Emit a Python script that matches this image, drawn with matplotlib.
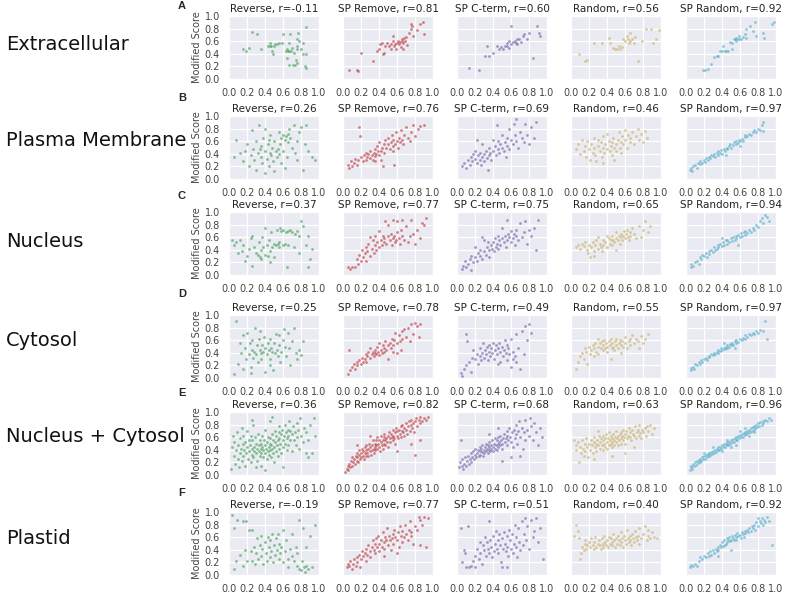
import numpy as np
import matplotlib.pyplot as plt
import seaborn as sns

sns.set_style('darkgrid')
plt.rcParams['font.family'] = ['DejaVu Sans']

methods = ['Reverse', 'SP Remove', 'SP C-term', 'Random', 'SP Random']
colors = ['#55A868', '#C44E52', '#8172B2', '#CCB974', '#64B5CD']
locations = ['Extracellular', 'Plasma Membrane', 'Nucleus', 'Cytosol',
             'Nucleus + Cytosol', 'Plastid']
letters = ['A', 'B', 'C', 'D', 'E', 'F']
r_values = [
    ['-0.11', '0.81', '0.60', '0.56', '0.92'],
    ['0.26', '0.76', '0.69', '0.46', '0.97'],
    ['0.37', '0.77', '0.75', '0.65', '0.94'],
    ['0.25', '0.78', '0.49', '0.55', '0.97'],
    ['0.36', '0.82', '0.68', '0.63', '0.96'],
    ['-0.19', '0.77', '0.51', '0.40', '0.92'],
]

# (original score, modified score) pairs, in hundredths
ext_rev = [(15,47),(19,44),(22,50),(25,74),(31,71),(36,47),(43,53),(45,57),(46,52),(47,53),
           (48,44),(49,39),(50,52),(51,55),(53,56),(56,57),(59,57),(60,72),(63,44),(64,48),
           (64,33),(65,45),(67,44),(67,57),(68,71),(69,44),(70,49),(71,22),(73,22),(74,30),
           (75,63),(75,47),(75,26),(76,52),(77,73),(78,60),(80,47),(82,57),(82,39),(84,20),
           (85,83),(85,40),(86,17),(72,41),(67,22)]
ext_rem = [(7,14),(16,14),(17,13),(20,41),(33,29),(38,45),(40,48),(41,55),(43,57),(44,39),
           (45,41),(47,53),(49,57),(51,52),(53,48),(53,56),(55,61),(56,69),(57,52),(58,56),
           (59,47),(60,57),(61,61),(62,55),(63,58),(64,51),(65,60),(66,64),(67,57),(68,65),
           (69,60),(70,67),(71,54),(73,73),(75,80),(76,88),(77,84),(78,68),(82,78),(85,87),
           (89,90),(90,71),(67,47)]
ext_cterm = [(13,17),(24,14),(33,52),(35,36),(31,36),(40,41),(44,52),(49,51),(51,47),(53,52),
             (56,57),(58,49),(60,84),(60,55),(62,58),(64,60),(65,57),(67,63),(67,55),(69,64),
             (71,58),(73,68),(74,71),(78,63),(80,73),(84,33),(89,84),(91,73),(92,68),(47,47),
             (55,53),(58,60)]
ext_rand = [(9,40),(15,29),(18,30),(25,57),(34,57),(42,65),(43,57),(47,49),(49,47),(51,48),
            (53,52),(54,47),(57,51),(58,63),(60,60),(62,68),(63,63),(64,57),(65,73),(66,60),
            (68,63),(70,57),(71,67),(74,28),(79,60),(83,80),(89,80),(91,57),(94,64),(98,78)]
ext_sprand = [(19,14),(21,14),(24,16),(28,24),(31,35),(34,37),(36,36),(38,45),(40,44),(43,45),
              (44,44),(41,52),(49,58),(51,57),(53,64),(54,63),(56,65),(56,61),(57,64),(59,63),
              (59,68),(61,64),(63,67),(65,71),(67,65),(67,80),(71,84),(74,76),(77,90),(78,68),
              (85,73),(87,65),(96,87),(98,91),(47,44),(51,47)]

pm_rev = [(5,35),(8,62),(12,42),(15,28),(18,45),(20,55),(22,20),(24,38),(25,78),(27,48),
          (28,30),(30,60),(30,15),(32,42),(33,85),(35,35),(35,52),(37,25),(38,65),(40,45),
          (40,80),(42,32),(43,55),(44,20),(45,42),(46,70),(47,38),(48,50),(49,28),(50,60),
          (50,12),(52,45),(53,35),(54,48),(55,75),(56,40),(57,55),(58,25),(58,65),(60,70),
          (60,45),(62,62),(63,68),(64,35),(65,72),(66,58),(67,80),(68,65),(70,50),(72,85),
          (73,42),(75,60),(76,30),(78,75),(80,82),(82,15),(84,55),(85,85),(88,45),(92,35),
          (95,30),(40,10),(34,48),(44,62),(62,18)]
pm_rem = [(5,22),(7,18),(9,28),(10,20),(12,25),(13,32),(15,22),(17,30),(18,82),(19,68),
          (20,35),(22,28),(23,38),(25,30),(26,42),(27,35),(28,40),(30,33),(30,45),(32,38),
          (33,30),(34,42),(35,48),(36,36),(37,40),(38,52),(39,44),(40,38),(40,58),(42,45),
          (43,50),(44,20),(45,55),(46,42),(47,62),(48,50),(50,55),(50,65),(52,48),(53,58),
          (54,70),(55,52),(56,62),(57,22),(58,55),(59,75),(60,60),(61,50),(62,65),(63,58),
          (64,78),(65,62),(67,55),(68,70),(70,82),(72,65),(74,60),(76,75),(78,85),(80,68),
          (83,80),(86,84),(90,86),(42,30),(36,28),(55,45)]
pm_cterm = [(5,20),(8,25),(10,18),(12,30),(14,22),(15,35),(17,28),(18,40),(20,32),(22,25),
            (23,38),(25,30),(26,42),(27,22),(28,35),(30,40),(30,28),(32,45),(33,33),(34,15),
            (35,38),(36,50),(37,42),(38,30),(40,45),(40,62),(42,52),(43,38),(44,85),(45,48),
            (46,60),(47,42),(48,55),(50,50),(50,70),(52,45),(53,58),(54,35),(55,65),(56,52),
            (58,48),(58,80),(60,62),(62,55),(63,88),(64,70),(65,95),(66,60),(68,50),(70,75),
            (72,65),(74,58),(75,88),(78,70),(80,55),(82,82),(85,65),(88,90),(28,55),(20,45),
            (22,62)]
pm_rand = [(5,48),(8,55),(10,40),(12,62),(14,45),(15,52),(17,35),(18,60),(20,48),(21,30),
           (22,55),(24,42),(25,65),(26,50),(27,38),(28,28),(30,52),(30,62),(32,45),(33,58),
           (34,35),(35,50),(36,68),(37,42),(38,55),(40,48),(40,72),(42,60),(43,45),(44,52),
           (45,38),(46,58),(47,65),(48,50),(50,55),(50,45),(52,62),(53,75),(54,50),(55,58),
           (56,42),(57,68),(58,55),(60,62),(60,78),(62,50),(63,70),(65,58),(66,65),(68,75),
           (70,55),(72,68),(74,80),(76,62),(78,72),(80,58),(82,76),(84,65),(35,25),(48,30)]
pm_sprand = [(4,14),(5,18),(7,12),(8,20),(10,22),(12,18),(13,25),(15,24),(16,28),(18,26),
             (20,30),(21,27),(22,33),(24,30),(25,35),(27,33),(28,38),(30,36),(31,40),(32,35),
             (34,42),(35,38),(36,44),(38,42),(39,46),(40,40),(42,48),(43,45),(45,50),(46,47),
             (48,52),(49,55),(50,50),(52,54),(53,58),(55,56),(56,60),(58,57),(59,62),(60,60),
             (62,64),(63,61),(65,66),(66,70),(68,68),(70,72),(72,70),(74,75),(76,78),(78,74),
             (80,80),(82,78),(84,86),(85,90),(85,76),(60,52),(44,38)]

nuc_rev = [(3,55),(5,48),(8,52),(10,35),(12,55),(14,38),(16,48),(18,22),(20,30),(22,42),
           (24,58),(25,15),(26,62),(28,45),(30,35),(32,32),(33,52),(34,28),(35,40),(36,25),
           (37,60),(38,45),(40,32),(40,75),(42,48),(43,30),(44,55),(45,38),(46,20),(47,68),
           (48,45),(50,50),(50,28),(52,48),(53,72),(54,50),(55,52),(56,45),(57,75),(58,70),
           (60,48),(60,72),(62,50),(63,68),(64,12),(65,70),(66,48),(68,72),(70,68),(72,45),
           (73,65),(75,70),(78,62),(80,85),(82,78),(85,48),(88,62),(90,25),(92,42),(88,12),
           (78,35)]
nuc_rem = [(5,12),(8,10),(10,12),(13,12),(15,25),(17,18),(18,32),(20,22),(21,40),(22,28),
           (24,35),(25,45),(26,22),(27,38),(28,50),(30,30),(30,60),(32,42),(33,55),(34,35),
           (35,48),(36,62),(37,40),(38,52),(40,45),(40,70),(42,55),(43,48),(44,62),(45,52),
           (46,58),(47,85),(48,50),(50,62),(50,80),(52,55),(53,65),(54,48),(55,58),(56,88),
           (57,62),(58,52),(59,55),(60,68),(60,85),(62,58),(63,50),(64,72),(65,62),(66,88),
           (68,55),(70,78),(72,52),(74,62),(75,88),(78,65),(80,50),(82,72),(85,58),(88,82),
           (92,90),(90,80)]
nuc_cterm = [(5,10),(7,15),(9,22),(10,12),(12,18),(14,25),(15,8),(16,30),(18,20),(20,28),
             (22,22),(23,35),(25,30),(26,40),(28,25),(30,38),(30,55),(32,32),(33,45),(34,52),
             (35,40),(36,28),(38,48),(39,42),(40,52),(41,38),(42,58),(43,45),(44,50),(45,62),
             (46,42),(47,55),(48,48),(50,58),(50,75),(52,52),(53,62),(54,45),(55,88),(56,55),
             (57,65),(58,60),(60,52),(60,70),(62,58),(63,65),(64,48),(65,62),(66,72),(68,55),
             (70,82),(72,60),(74,68),(76,85),(78,50),(80,72),(82,62),(85,75),(88,40),(90,88),
             (28,60),(20,45)]
nuc_rand = [(5,45),(8,48),(10,42),(12,50),(14,46),(16,52),(18,40),(19,35),(20,48),(21,28),
            (22,45),(24,52),(25,38),(26,30),(27,48),(28,55),(30,42),(30,60),(32,50),(33,45),
            (34,38),(35,55),(36,48),(38,52),(40,45),(40,62),(42,58),(43,50),(44,55),(45,48),
            (46,62),(47,55),(48,52),(50,58),(50,68),(52,55),(53,62),(54,50),(55,60),(56,65),
            (57,55),(58,62),(59,70),(60,58),(61,65),(62,72),(63,60),(64,55),(65,68),(66,62),
            (68,75),(70,65),(72,58),(75,78),(78,60),(80,72),(82,85),(85,68),(88,78),(50,40)]
nuc_sprand = [(5,12),(6,18),(8,15),(10,20),(12,22),(14,18),(15,28),(17,25),(18,32),(20,30),
              (22,35),(23,28),(25,38),(26,34),(28,40),(30,36),(31,45),(32,40),(34,42),(35,48),
              (36,44),(38,50),(40,46),(41,52),(42,48),(44,55),(45,50),(46,56),(48,52),(50,58),
              (51,54),(52,60),(54,56),(55,62),(56,58),(58,64),(60,60),(61,66),(62,62),(64,68),
              (65,64),(66,70),(68,66),(70,72),(72,68),(74,75),(76,72),(78,80),(80,76),(82,85),
              (84,90),(86,82),(88,95),(90,92),(92,85),(58,48),(40,58)]

cyt_rev = [(5,6),(8,90),(10,22),(12,55),(13,40),(15,15),(16,68),(18,48),(19,30),(20,72),
           (22,38),(23,55),(24,18),(25,45),(26,60),(27,32),(28,42),(29,80),(30,38),(31,52),
           (32,25),(33,62),(34,45),(35,40),(36,30),(37,52),(38,42),(39,65),(40,48),(40,10),
           (42,38),(43,55),(44,45),(45,30),(46,62),(47,48),(48,42),(49,12),(50,55),(51,40),
           (52,70),(53,45),(54,35),(55,68),(56,52),(57,25),(58,42),(60,60),(61,78),(62,50),
           (63,35),(65,72),(67,48),(68,20),(70,58),(72,80),(74,40),(76,30),(78,45),(80,36),
           (82,58),(34,75),(24,8),(46,20)]
cyt_rem = [(5,6),(7,44),(8,12),(10,18),(12,22),(13,15),(15,25),(16,20),(18,28),(20,22),
           (21,32),(22,26),(24,30),(25,38),(26,25),(27,35),(28,42),(30,32),(30,48),(32,38),
           (33,42),(34,35),(35,45),(36,40),(37,38),(38,50),(39,42),(40,36),(40,55),(42,45),
           (43,40),(44,52),(45,42),(46,48),(47,58),(48,45),(50,52),(50,30),(52,55),(53,48),
           (54,62),(55,52),(56,42),(57,60),(58,72),(60,55),(62,68),(63,58),(64,45),(65,75),
           (66,62),(68,78),(70,65),(72,80),(74,58),(75,85),(78,70),(80,88),(82,82),(84,65),
           (85,86),(60,40)]
cyt_cterm = [(4,8),(6,3),(8,15),(10,20),(10,70),(11,58),(13,25),(15,10),(17,32),(18,45),
             (20,30),(22,38),(23,22),(25,35),(26,48),(27,28),(28,40),(29,55),(30,32),(31,45),
             (32,38),(33,50),(34,28),(35,42),(36,52),(37,35),(38,48),(39,40),(40,55),(41,30),
             (42,45),(43,52),(44,38),(45,48),(46,22),(47,55),(48,42),(50,50),(51,35),(52,45),
             (53,60),(54,40),(55,52),(56,28),(57,48),(58,38),(60,18),(60,62),(62,42),(64,35),
             (65,70),(66,25),(68,48),(70,15),(72,75),(74,38),(76,82),(78,60),(80,85),(82,72),
             (62,30),(48,25)]
cyt_rand = [(5,15),(8,25),(10,35),(12,40),(14,30),(15,48),(17,42),(18,22),(20,50),(21,38),
            (22,45),(24,52),(25,35),(26,48),(27,55),(28,42),(30,50),(30,38),(32,55),(33,48),
            (34,58),(35,45),(36,52),(37,60),(38,48),(39,55),(40,50),(40,42),(42,58),(43,52),
            (44,62),(45,48),(46,55),(47,50),(48,45),(49,58),(50,52),(50,62),(52,48),(53,55),
            (54,60),(55,52),(56,40),(57,58),(58,50),(60,55),(60,65),(62,48),(64,58),(65,62),
            (66,52),(68,68),(70,55),(72,62),(74,58),(75,48),(78,66),(80,55),(82,62),(85,70),
            (44,30),(30,62)]
cyt_sprand = [(5,12),(6,16),(8,18),(9,14),(10,22),(12,20),(14,25),(15,22),(17,28),(18,26),
              (20,30),(22,32),(23,29),(25,35),(26,33),(28,38),(30,36),(31,40),(32,38),(34,42),
              (35,40),(36,45),(38,43),(39,47),(40,45),(42,48),(43,46),(44,50),(45,48),(46,52),
              (48,50),(49,54),(50,52),(51,56),(52,53),(54,58),(55,55),(56,60),(58,57),(60,62),
              (62,60),(63,64),(65,62),(66,68),(68,65),(70,70),(72,68),(74,72),(76,70),(78,74),
              (80,72),(82,76),(85,75),(88,90),(90,62),(54,48),(42,55)]

nc_rev = [(2,10),(3,45),(4,62),(5,30),(6,52),(7,18),(8,40),(9,68),(10,25),(10,48),(11,12),
          (12,35),(12,58),(13,42),(14,22),(14,75),(15,50),(16,30),(16,62),(17,40),(18,15),
          (18,52),(19,35),(20,45),(20,70),(21,25),(22,55),(22,38),(23,48),(24,20),(24,62),
          (25,42),(25,32),(26,55),(27,28),(27,80),(28,45),(28,38),(29,60),(30,35),(30,50),
          (31,22),(31,42),(32,65),(33,38),(33,48),(34,30),(34,55),(35,42),(35,15),(36,50),
          (36,35),(37,62),(37,45),(38,28),(38,40),(39,55),(40,48),(40,35),(40,72),(41,42),
          (42,25),(42,52),(43,38),(43,60),(44,45),(44,32),(45,50),(45,85),(46,40),(46,58),
          (47,28),(47,48),(48,65),(48,42),(49,35),(49,55),(50,45),(50,20),(51,52),(51,70),
          (52,38),(52,62),(53,48),(54,55),(54,30),(55,68),(55,42),(56,58),(56,78),(57,50),
          (58,65),(58,35),(59,72),(60,55),(60,45),(61,62),(62,80),(62,50),(63,68),(64,58),
          (64,40),(65,72),(66,62),(66,48),(67,85),(68,55),(68,70),(70,65),(70,38),(71,78),
          (72,55),(73,68),(74,48),(75,82),(76,60),(77,72),(78,42),(79,90),(80,62),(82,52),
          (83,75),(85,35),(86,68),(88,28),(88,55),(90,80),(92,35),(94,90),(96,62),(60,12),
          (40,8),(30,12),(25,88),(48,92)]
nc_rem = [(2,5),(4,10),(5,15),(6,8),(7,18),(8,12),(9,22),(10,15),(10,28),(11,20),(12,25),
          (13,18),(14,30),(15,22),(15,35),(16,28),(17,20),(18,32),(18,40),(19,25),(20,35),
          (20,28),(21,42),(22,30),(22,38),(23,25),(24,45),(24,35),(25,30),(26,40),(26,48),
          (27,35),(28,42),(28,30),(29,50),(30,38),(30,45),(31,32),(32,48),(32,40),(33,55),
          (34,42),(34,35),(35,50),(35,45),(36,40),(37,55),(37,48),(38,42),(38,60),(39,50),
          (40,45),(40,55),(41,38),(42,52),(42,62),(43,48),(44,55),(44,42),(45,60),(45,50),
          (46,65),(47,55),(47,48),(48,58),(49,52),(50,62),(50,45),(51,68),(52,58),(52,52),
          (53,65),(54,60),(55,55),(55,72),(56,62),(57,58),(58,68),(58,50),(59,75),(60,62),
          (60,70),(61,58),(62,72),(63,65),(64,78),(64,60),(65,70),(66,80),(67,68),(68,75),
          (68,62),(70,82),(70,72),(71,65),(72,78),(73,85),(74,70),(75,80),(76,88),(77,75),
          (78,82),(79,68),(80,85),(81,90),(82,78),(84,88),(85,82),(86,92),(88,85),(90,90),
          (92,88),(94,92),(80,32),(85,55),(75,50),(30,62),(15,48),(60,38)]
nc_cterm = [(2,12),(3,20),(4,55),(5,15),(6,25),(7,10),(8,18),(9,28),(10,14),(11,22),(12,30),
            (13,18),(14,25),(15,35),(16,20),(17,28),(18,38),(19,25),(20,32),(20,42),(21,28),
            (22,35),(23,40),(24,30),(25,38),(25,45),(26,32),(27,42),(28,36),(28,48),(29,30),
            (30,40),(30,35),(31,45),(32,38),(32,50),(33,42),(34,35),(34,48),(35,40),(36,45),
            (36,52),(37,38),(38,48),(38,42),(39,55),(40,45),(40,38),(41,50),(42,42),(42,58),
            (43,48),(44,40),(44,55),(45,50),(46,45),(46,60),(47,52),(48,48),(48,62),(49,55),
            (50,50),(50,42),(51,58),(52,65),(53,52),(54,58),(55,48),(55,70),(56,62),(57,55),
            (58,75),(59,60),(60,52),(61,68),(62,45),(63,72),(64,58),(65,80),(66,65),(67,50),
            (68,70),(69,85),(70,60),(72,75),(73,42),(74,68),(75,88),(76,55),(78,72),(80,62),
            (81,90),(82,78),(84,55),(86,82),(88,68),(90,48),(92,75),(94,60),(60,28),(70,30),
            (50,22),(35,65),(45,75)]
nc_rand = [(3,55),(5,48),(6,40),(8,52),(9,20),(10,45),(11,35),(12,55),(13,42),(14,30),
           (15,50),(16,38),(17,58),(18,45),(19,28),(20,50),(21,40),(22,55),(23,48),(24,35),
           (25,52),(26,60),(27,45),(28,50),(28,38),(29,55),(30,48),(31,62),(32,42),(32,52),
           (33,58),(34,48),(35,55),(35,40),(36,62),(37,50),(38,45),(38,58),(39,65),(40,52),
           (40,42),(41,58),(42,48),(42,68),(43,55),(44,50),(44,62),(45,45),(46,58),(46,52),
           (47,65),(48,55),(48,48),(49,60),(50,52),(50,70),(51,58),(52,62),(52,48),(53,55),
           (54,65),(55,58),(55,50),(56,68),(57,62),(58,55),(58,72),(59,60),(60,65),(60,50),
           (61,70),(62,58),(63,62),(64,75),(65,60),(66,68),(67,55),(68,72),(69,65),(70,62),
           (71,78),(72,58),(73,68),(74,72),(75,62),(76,80),(77,66),(78,58),(79,72),(80,68),
           (82,75),(83,62),(84,78),(86,70),(88,80),(90,65),(92,75),(60,35),(45,30),(30,70),
           (25,25),(70,45)]
nc_sprand = [(4,8),(5,12),(6,15),(7,10),(8,18),(9,14),(10,20),(11,16),(12,22),(13,19),
             (14,24),(15,20),(16,26),(17,22),(18,28),(19,25),(20,30),(21,26),(22,32),(23,28),
             (24,34),(25,30),(26,35),(27,32),(28,37),(29,34),(30,38),(31,35),(32,40),(33,37),
             (34,42),(35,39),(36,44),(37,40),(38,45),(39,42),(40,47),(41,44),(42,49),(43,45),
             (44,50),(45,47),(46,52),(47,48),(48,53),(49,50),(50,55),(51,52),(52,57),(53,53),
             (54,58),(55,55),(56,60),(57,56),(58,62),(59,58),(60,63),(61,60),(62,65),(63,61),
             (64,67),(65,63),(66,69),(67,65),(68,70),(69,66),(70,72),(71,68),(72,74),(73,70),
             (74,76),(75,72),(76,78),(77,74),(78,80),(79,76),(80,82),(81,78),(82,84),(84,80),
             (85,86),(86,82),(88,88),(90,85),(92,90),(94,88),(30,45),(40,38),(50,45),(60,70),
             (70,62),(20,35),(45,55),(55,48),(65,75),(75,68)]

pla_rev = [(3,95),(5,75),(6,10),(8,22),(9,88),(12,32),(15,85),(16,15),(18,40),(19,85),
           (20,22),(22,72),(24,38),(25,22),(26,72),(28,45),(29,18),(30,35),(31,58),(32,25),
           (34,48),(35,30),(36,62),(37,42),(38,18),(40,52),(41,35),(42,22),(43,60),(44,45),
           (45,28),(46,55),(47,38),(48,65),(49,20),(50,48),(51,32),(52,58),(53,40),(54,65),
           (55,25),(56,50),(57,35),(58,45),(60,20),(62,38),(63,55),(65,25),(66,12),(68,42),
           (70,30),(72,22),(74,45),(75,15),(76,35),(78,10),(78,88),(80,8),(81,22),(82,75),
           (83,12),(84,5),(85,45),(86,15),(88,10),(90,62),(92,12),(95,80),(70,65),(60,72)]
pla_rem = [(4,12),(5,18),(7,15),(8,22),(10,10),(11,18),(12,25),(14,15),(15,28),(16,20),
           (18,32),(19,12),(20,25),(21,38),(22,30),(24,35),(25,22),(26,42),(27,32),(28,48),
           (30,38),(30,28),(32,45),(33,55),(34,40),(35,50),(36,35),(37,58),(38,45),(39,62),
           (40,50),(40,38),(42,55),(43,45),(44,68),(45,52),(46,42),(47,60),(48,55),(49,75),
           (50,48),(51,62),(52,55),(53,40),(54,58),(55,65),(56,50),(57,72),(58,60),(60,55),
           (61,68),(62,45),(63,78),(64,62),(65,52),(66,70),(68,60),(69,80),(70,65),(72,55),
           (73,72),(74,85),(75,62),(76,68),(78,50),(80,78),(82,72),(84,92),(85,48),(86,88),
           (88,80),(90,92),(92,45),(94,90),(60,35),(45,30)]
pla_cterm = [(4,75),(5,20),(8,40),(9,35),(10,12),(12,78),(13,12),(15,15),(18,22),(20,30),
             (22,42),(24,25),(25,52),(26,35),(28,18),(29,48),(30,40),(31,60),(32,30),(33,52),
             (34,42),(35,85),(36,35),(37,55),(38,45),(39,28),(40,62),(41,38),(42,50),(43,70),
             (44,42),(45,55),(46,35),(47,65),(48,48),(49,20),(50,58),(50,12),(51,42),(52,68),
             (53,50),(54,38),(55,62),(56,45),(57,30),(58,72),(59,55),(60,42),(61,65),(62,35),
             (63,50),(64,80),(65,45),(66,60),(67,28),(68,75),(69,52),(70,40),(72,85),(73,48),
             (74,65),(76,90),(77,55),(78,78),(80,42),(82,88),(84,60),(86,70),(88,90),(90,52),
             (92,75),(95,25),(55,12),(20,12)]
pla_rand = [(3,62),(6,80),(8,70),(9,58),(10,25),(11,35),(12,45),(14,40),(15,50),(16,55),
            (17,42),(18,48),(20,52),(21,45),(22,58),(24,48),(25,42),(26,52),(27,60),(28,45),
            (30,50),(31,55),(32,48),(33,42),(34,58),(35,50),(36,45),(37,62),(38,52),(39,48),
            (40,55),(41,45),(42,60),(43,50),(44,58),(45,48),(46,52),(47,65),(48,55),(49,45),
            (50,58),(51,50),(52,62),(53,55),(54,48),(55,68),(56,52),(57,58),(58,45),(59,62),
            (60,55),(61,50),(62,72),(63,58),(64,52),(65,62),(66,55),(67,48),(68,65),(69,58),
            (70,52),(71,70),(72,60),(73,55),(74,62),(75,50),(76,75),(78,58),(80,65),(82,78),
            (84,55),(85,62),(86,72),(88,58),(90,68),(92,60),(95,58)]
pla_sprand = [(4,12),(6,16),(8,14),(10,18),(12,15),(14,22),(16,28),(18,25),(20,30),(22,28),
              (24,35),(25,30),(27,38),(28,32),(30,40),(31,35),(33,42),(34,38),(35,45),(36,40),
              (38,48),(39,44),(40,52),(41,46),(42,55),(43,48),(44,50),(45,58),(46,52),(47,55),
              (48,60),(49,54),(50,56),(51,62),(52,58),(53,55),(54,64),(55,60),(56,56),(57,66),
              (58,62),(60,64),(61,58),(62,68),(63,65),(64,60),(65,70),(66,66),(68,72),(69,68),
              (70,75),(72,70),(73,78),(74,74),(76,80),(77,72),(78,84),(80,78),(80,90),(82,86),
              (83,82),(84,90),(86,80),(87,88),(88,84),(90,92),(92,86),(95,48),(50,40),(35,30)]

panels = [
    [ext_rev, ext_rem, ext_cterm, ext_rand, ext_sprand],
    [pm_rev, pm_rem, pm_cterm, pm_rand, pm_sprand],
    [nuc_rev, nuc_rem, nuc_cterm, nuc_rand, nuc_sprand],
    [cyt_rev, cyt_rem, cyt_cterm, cyt_rand, cyt_sprand],
    [nc_rev, nc_rem, nc_cterm, nc_rand, nc_sprand],
    [pla_rev, pla_rem, pla_cterm, pla_rand, pla_sprand],
]

W, H = 787.0, 593.0
fig = plt.figure(figsize=(W / 100, H / 100), dpi=100)

# axes placement in pixels (from top-left)
col_left = [229, 343, 457, 571, 686]
row_top = [16, 116, 212, 315, 412, 512]
ax_w, ax_h = 90, 63
label_y = [44, 141, 242, 340, 437, 538]
letter_y = [6, 98, 196, 294, 393, 493]

for i, loc in enumerate(locations):
    for j in range(5):
        ax = fig.add_axes([col_left[j] / W, 1 - (row_top[i] + ax_h) / H, ax_w / W, ax_h / H])
        pts = np.array(panels[i][j]) / 100.0
        ax.scatter(pts[:, 0], pts[:, 1], s=4, color=colors[j], alpha=0.7, linewidths=0)
        ax.set_xlim(0, 1)
        ax.set_ylim(0, 1)
        ticks = [0.0, 0.2, 0.4, 0.6, 0.8, 1.0]
        ax.set_xticks(ticks)
        ax.set_yticks(ticks)
        ax.set_xticklabels(['%.1f' % t for t in ticks])
        if j == 0:
            ax.set_yticklabels(['%.1f' % t for t in ticks])
            ax.set_ylabel('Modified Score', fontsize=7, color='#444444', labelpad=2)
        else:
            ax.set_yticklabels([])
        ax.tick_params(labelsize=7, colors='#444444', pad=3)
        ax.grid(color='white', linewidth=0.9)
        ax.set_title('%s, r=%s' % (methods[j], r_values[i][j]), fontsize=7.5,
                     color='#222222', pad=3)
    fig.text(6 / W, 1 - label_y[i] / H, loc, fontsize=14, va='center', ha='left',
             color='#111111')
    fig.text(178 / W, 1 - letter_y[i] / H, letters[i], fontsize=8, fontweight='bold',
             family='Liberation Sans', va='center', ha='left')

fig.savefig('out.png', dpi=100)
